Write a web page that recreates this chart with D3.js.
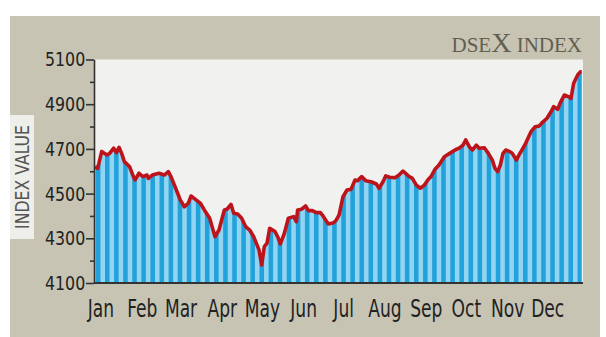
<!DOCTYPE html>
<html>
<head>
<meta charset="utf-8">
<script src="https://cdn.jsdelivr.net/npm/d3@7"></script>
<style>
  body { margin: 0; background: #fff; }
  svg { display: block; }
</style>
</head>
<body>
<div id="chart"></div>
<script>
"use strict";

// DSEX index, 2016
const dates = [
  "01-01","01-03","01-06","01-10","01-12","01-15","01-17","01-19","01-21","01-23","01-27","01-30","01-31",
  "02-03","02-06","02-09","02-10","02-13","02-18","02-22","02-25","02-27",
  "03-02","03-05","03-08","03-11","03-13","03-17","03-20","03-23","03-27","03-31",
  "04-03","04-07","04-09","04-12","04-14","04-17","04-20","04-23","04-26","04-29",
  "05-03","05-05","05-07","05-09","05-11","05-15","05-17","05-19","05-22","05-25","05-29","05-31",
  "06-01","06-04","06-07","06-09","06-12","06-15","06-18","06-20","06-24","06-28","06-30",
  "07-02","07-05","07-08","07-11","07-14","07-16","07-19","07-22","07-26","07-30",
  "08-01","08-04","08-06","08-09","08-13","08-16","08-19","08-23","08-26","08-29",
  "09-01","09-04","09-07","09-09","09-12","09-15","09-19","09-23","09-27","09-30",
  "10-03","10-05","10-08","10-10","10-13","10-15","10-19","10-22","10-25","10-27","10-29","10-31",
  "11-02","11-04","11-07","11-09","11-12","11-14","11-17","11-19","11-23","11-26","11-29",
  "12-01","12-05","12-08","12-10","12-13","12-15","12-18","12-21","12-23","12-25","12-28","12-30","12-31"
];
const values = [
  4620,4613,4688,4673,4680,4703,4683,4707,4680,4643,4620,4573,4561,
  4591,4576,4583,4568,4583,4591,4583,4598,4576,
  4516,4471,4441,4457,4489,4471,4457,4427,4390,4307,
  4337,4427,4430,4452,4412,4409,4390,4352,4337,4307,
  4248,4181,4263,4278,4345,4330,4307,4275,4322,4390,4397,4374,
  4427,4430,4445,4424,4424,4415,4415,4400,4364,4370,4382,
  4404,4486,4516,4519,4561,4558,4576,4558,4553,4543,
  4524,4553,4579,4573,4571,4583,4601,4579,4568,4538,
  4524,4538,4564,4576,4609,4628,4665,4680,4695,4703,
  4717,4740,4707,4695,4717,4703,4705,4680,4650,4613,4598,4628,
  4680,4695,4688,4680,4650,4673,4703,4725,4777,4799,4802,
  4815,4837,4866,4889,4877,4907,4941,4934,4926,4994,5031,5045,5045
];
const months = ["Jan","Feb","Mar","Apr","May","Jun","Jul","Aug","Sep","Oct","Nov","Dec"];
const yTicks = [4100, 4300, 4500, 4700, 4900, 5100];
const yMinorTicks = [4200, 4400, 4600, 4800, 5000];

const width = 606, height = 337;
const narrow = "'Liberation Sans Narrow', 'DejaVu Sans Condensed', sans-serif";
const parse = d3.timeParse("%Y-%m-%d");
const data = dates.map((d, i) => ({date: parse("2016-" + d), value: values[i]}));

const margin = {top: 59.5, right: 23, bottom: 54, left: 95};
const x = d3.scaleTime()
    .domain([new Date(2016, 0, 1), new Date(2017, 0, 1)])
    .range([margin.left, width - margin.right]);
const y = d3.scaleLinear()
    .domain([4100, 5100])
    .range([height - margin.bottom, margin.top]);

const svg = d3.select("#chart").append("svg")
    .attr("width", width)
    .attr("height", height);

// grey panel
svg.append("rect")
    .attr("x", 10).attr("y", 16)
    .attr("width", 590).attr("height", height - 16)
    .attr("fill", "#c7c4b4");

// plot background
svg.append("rect")
    .attr("x", x.range()[0]).attr("y", y(5100))
    .attr("width", x.range()[1] - x.range()[0])
    .attr("height", y(4100) - y(5100))
    .attr("fill", "#f1f1f0");

// area under the line, used as fill and as clip for the bars
const area = d3.area()
    .x(d => x(d.date))
    .y0(y(4100))
    .y1(d => y(d.value));

svg.append("clipPath").attr("id", "area-clip")
  .append("path")
    .attr("d", area(data));

svg.append("path")
    .attr("d", area(data))
    .attr("fill", "#92d4f1");

const band = d3.scaleBand()
    .domain(d3.range(54))
    .range(x.range())
    .paddingInner(0.5)
    .paddingOuter(0.1);

svg.append("g")
    .attr("clip-path", "url(#area-clip)")
  .selectAll("rect")
  .data(band.domain())
  .join("rect")
    .attr("x", d => band(d))
    .attr("y", y(5100))
    .attr("width", band.bandwidth())
    .attr("height", y(4100) - y(5100))
    .attr("fill", "#22a2da");

// red index line
svg.append("path")
    .datum(data)
    .attr("fill", "none")
    .attr("stroke", "#bd141c")
    .attr("stroke-width", 3.6)
    .attr("stroke-linejoin", "round")
    .attr("d", d3.line().x(d => x(d.date)).y(d => y(d.value)));

// y axis
const yAxis = svg.append("g")
    .attr("transform", `translate(${x.range()[0] - 1},0)`)
    .call(d3.axisLeft(y).tickValues(yTicks).tickSize(8).tickSizeOuter(0).tickPadding(2).tickFormat(d3.format("d")));
yAxis.select(".domain").attr("stroke", "#333").attr("stroke-width", 1.6);
yAxis.selectAll(".tick line").attr("stroke", "#333").attr("stroke-width", 1.6);
yAxis.selectAll(".tick text")
    .attr("fill", "#222")
    .attr("transform", "scale(0.88,1)")
    .style("font-family", narrow)
    .style("font-size", "20px");

svg.append("g")
    .attr("transform", `translate(${x.range()[0] - 1},0)`)
    .call(d3.axisLeft(y).tickValues(yMinorTicks).tickSize(4).tickFormat(""))
    .call(g => g.select(".domain").remove())
    .selectAll(".tick line").attr("stroke", "#333").attr("stroke-width", 1.6);

// x axis baseline
svg.append("line")
    .attr("x1", x.range()[0] - 1).attr("x2", x.range()[1])
    .attr("y1", y(4100)).attr("y2", y(4100))
    .attr("stroke", "#333")
    .attr("stroke-width", 2);

// month labels
svg.append("g")
  .selectAll("text")
  .data(months)
  .join("text")
    .attr("transform", (d, i) => `translate(${x(new Date(2016, i, 1)) + 6},317) scale(0.76,1)`)
    .attr("text-anchor", "middle")
    .attr("fill", "#222")
    .style("font-family", narrow)
    .style("font-size", "25px")
    .text(d => d);

// y axis title
svg.append("rect")
    .attr("x", 10).attr("y", 115)
    .attr("width", 24).attr("height", 124)
    .attr("fill", "#eeeeea");
svg.append("text")
    .attr("transform", "translate(29,177) rotate(-90) scale(0.92,1)")
    .attr("text-anchor", "middle")
    .attr("fill", "#555")
    .style("font-family", narrow)
    .style("font-size", "19px")
    .text("INDEX VALUE");

// chart title
const title = svg.append("text")
    .attr("x", 582).attr("y", 52)
    .attr("text-anchor", "end")
    .attr("fill", "#625f50")
    .style("font-family", "'Liberation Serif', 'DejaVu Serif', serif")
    .style("font-size", "21px");
title.append("tspan").text("DSE");
title.append("tspan").style("font-size", "28px").text("X");
title.append("tspan").text(" INDEX");
</script>
</body>
</html>
